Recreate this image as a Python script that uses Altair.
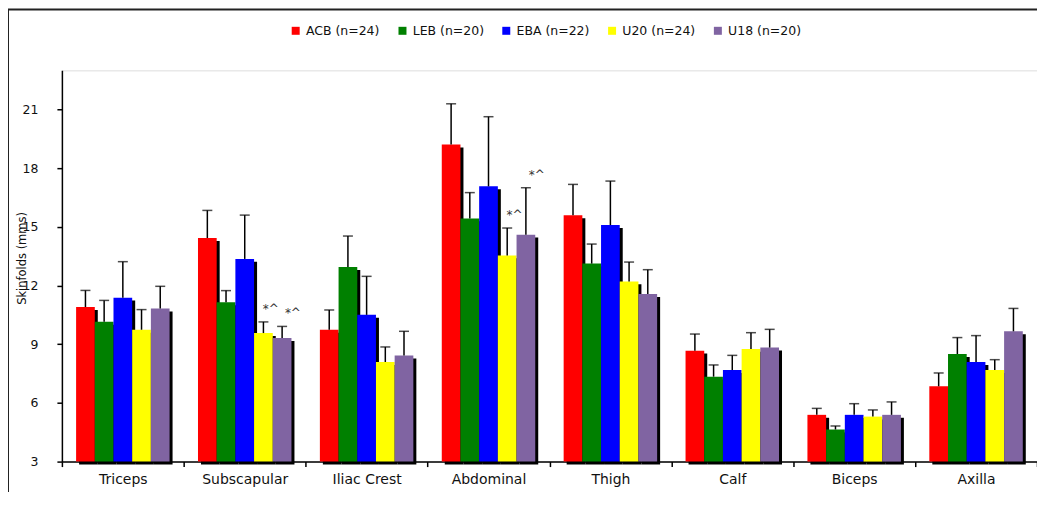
import altair as alt
import pandas as pd

categories = ["Triceps", "Subscapular", "Iliac Crest", "Abdominal", "Thigh", "Calf", "Biceps", "Axilla"]
groups = ["ACB (n=24)", "LEB (n=20)", "EBA (n=22)", "U20 (n=24)", "U18 (n=20)"]
colors = ["#FF0000", "#008000", "#0000FF", "#FFFF00", "#8064A2"]

acb_mean = [10.90, 14.43, 9.74, 19.21, 15.59, 8.67, 5.39, 6.85]
leb_mean = [10.15, 11.14, 12.95, 15.43, 13.12, 7.34, 4.64, 8.50]
eba_mean = [11.38, 13.36, 10.50, 17.07, 15.09, 7.68, 5.39, 8.09]
u20_mean = [9.74, 9.57, 8.09, 13.54, 12.21, 8.76, 5.30, 7.68]
u18_mean = [10.82, 9.32, 8.42, 14.60, 11.57, 8.83, 5.39, 9.66]

acb_sd = [0.85, 1.41, 1.01, 2.08, 1.58, 0.85, 0.33, 0.68]
leb_sd = [1.09, 0.60, 1.58, 1.32, 1.00, 0.60, 0.18, 0.84]
eba_sd = [1.84, 2.24, 1.97, 3.56, 2.25, 0.75, 0.57, 1.35]
u20_sd = [1.03, 0.57, 0.77, 1.40, 0.99, 0.83, 0.34, 0.53]
u18_sd = [1.14, 0.59, 1.24, 2.40, 1.24, 0.93, 0.66, 1.17]

u20_note = ["", "*^", "", "*^", "", "", "", ""]
u18_note = ["", "*^", "", "*^", "", "", "", ""]
empty_note = [""] * 8

y_ticks = [3, 6, 9, 12, 15, 18, 21]

means = [acb_mean, leb_mean, eba_mean, u20_mean, u18_mean]
sds = [acb_sd, leb_sd, eba_sd, u20_sd, u18_sd]
notes = [empty_note, empty_note, empty_note, u20_note, u18_note]

rows = []
for g, m, s, n in zip(groups, means, sds, notes):
    for c, mv, sv, nv in zip(categories, m, s, n):
        rows.append({"cat": c, "grp": g, "mean": mv, "upper": round(mv + sv, 2), "note": nv})
df = pd.DataFrame(rows)

FONT = "DejaVu Sans"
W, H = 977, 392
BAND = W / len(categories)

x_enc = alt.X("cat:N", sort=categories,
              scale=alt.Scale(paddingInner=0, paddingOuter=0),
              axis=alt.Axis(title=None, labelAngle=0, tickBand="extent", domainColor="black",
                            tickColor="black", tickSize=5, domainWidth=1.5, tickWidth=1.5,
                            labelFont=FONT, labelFontSize=14, labelColor="#111",
                            labelPadding=6, grid=False))
xo_enc = alt.XOffset("grp:N", sort=groups,
                     scale=alt.Scale(domain=groups, paddingInner=0, paddingOuter=0.76))
xo_shadow = alt.XOffset("grp:N", sort=groups,
                        scale=alt.Scale(domain=groups, paddingInner=0, paddingOuter=0.76,
                                        range=[3, BAND + 3]))
y_scale = alt.Scale(domain=[3, 23], nice=False, zero=False)
y_axis = alt.Axis(title="Skinfolds (mms)", values=y_ticks, grid=False, domainColor="black",
                  tickColor="black", tickSize=5, domainWidth=1.5, tickWidth=1.5,
                  labelFont=FONT, labelFontSize=12.5, labelColor="#111", labelPadding=19,
                  titleFont=FONT, titleFontSize=11.5, titleFontWeight="normal", titleColor="#111",
                  titleX=-39, titleY=188, titleAngle=-90, titleAlign="center", titleBaseline="middle")

base = alt.Chart(df)

shadow = base.transform_calculate(top="datum.mean - 0.15").mark_bar(color="black").encode(
    x=x_enc, xOffset=xo_shadow,
    y=alt.Y("top:Q", scale=y_scale, axis=y_axis),
    y2=alt.datum(2.85),
)

bars = base.mark_bar().encode(
    x=x_enc, xOffset=xo_enc,
    y=alt.Y("mean:Q", scale=y_scale, axis=y_axis),
    y2=alt.datum(3),
    color=alt.Color("grp:N", sort=groups, scale=alt.Scale(domain=groups, range=colors),
                    legend=alt.Legend(title=None, orient="none", direction="horizontal",
                                      legendX=228, legendY=-46, symbolType="square",
                                      symbolSize=64, symbolStrokeWidth=0, labelFont=FONT,
                                      labelFontSize=12.5, labelColor="#111", columnPadding=16,
                                      labelOffset=4, padding=0)),
)

err = base.mark_rule(color="black", strokeWidth=1.5).encode(
    x=x_enc, xOffset=xo_enc,
    y=alt.Y("mean:Q", scale=y_scale, axis=y_axis),
    y2="upper:Q",
)

caps = base.mark_tick(color="black", thickness=1.5, size=10, orient="horizontal").encode(
    x=x_enc, xOffset=xo_enc,
    y=alt.Y("upper:Q", scale=y_scale, axis=y_axis),
)

ann = base.transform_filter(alt.datum.note != "").mark_text(
    font=FONT, fontSize=12, color="#333", dy=-13, dx=4, baseline="middle").encode(
    x=x_enc, xOffset=xo_enc,
    y=alt.Y("upper:Q", scale=y_scale, axis=y_axis),
    text="note:N",
)

frame = alt.Chart(pd.DataFrame({"k": [0]})).mark_rect(
    fill=None, stroke="#222", strokeWidth=2).encode(
    x=alt.value(-54), x2=alt.value(W + 20), y=alt.value(-61), y2=alt.value(H + 60))

main = alt.layer(shadow, bars, err, caps, ann).resolve_scale(xOffset="independent")

chart = alt.layer(frame, main).properties(
    width=W, height=H,
    autosize=alt.AutoSizeParams(type="none"),
    padding={"left": 54, "top": 62, "right": 0, "bottom": 30},
).configure_view(stroke="#A0A0A0", strokeWidth=2).configure(background="white")

chart.save("out.html", embed_options={"renderer": "svg", "actions": False})
